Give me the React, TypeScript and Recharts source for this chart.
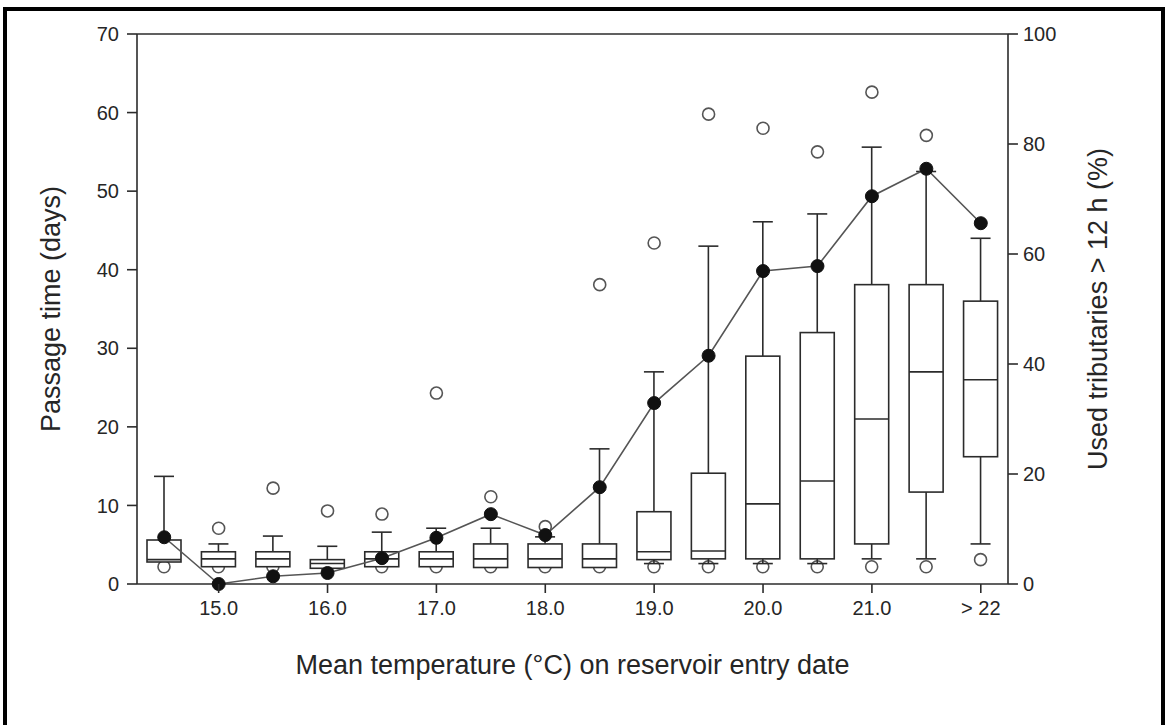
import React from "react";
import { Bar, ComposedChart, Line, ReferenceLine, XAxis, YAxis } from "recharts";

const categories = ["14.5", "15.0", "15.5", "16.0", "16.5", "17.0", "17.5", "18.0", "18.5", "19.0", "19.5", "20.0", "20.5", "21.0", "21.5", "> 22"];
const labeledTicks = ["15.0", "16.0", "17.0", "18.0", "19.0", "20.0", "21.0", "> 22"];

// passage time (days) box plots
const whiskerLow = [2.8, 2.2, 2.2, 2.0, 2.2, 2.2, 2.1, 2.1, 2.1, 2.6, 2.6, 2.6, 2.6, 3.2, 3.2, 5.1];
const q1 = [2.8, 2.2, 2.2, 2.0, 2.2, 2.2, 2.1, 2.1, 2.1, 3.1, 3.2, 3.2, 3.2, 5.1, 11.7, 16.2];
const median = [3.1, 3.2, 3.2, 2.6, 3.2, 3.2, 3.2, 3.2, 3.2, 4.1, 4.2, 10.2, 13.1, 21.0, 27.0, 26.0];
const q3 = [5.6, 4.1, 4.1, 3.1, 4.1, 4.1, 5.1, 5.1, 5.1, 9.2, 14.1, 29.0, 32.0, 38.1, 38.1, 36.0];
const whiskerHigh = [13.7, 5.1, 6.1, 4.8, 6.6, 7.1, 7.1, 6.0, 17.2, 27.0, 43.0, 46.1, 47.1, 55.6, 52.5, 44.0];
const outlierHigh = [null, 7.1, 12.2, 9.3, 8.9, 24.3, 11.1, 7.3, 38.1, 43.4, 59.8, 58.0, 55.0, 62.6, 57.1, null];
const outlierLow = [2.2, 2.2, 2.2, 2.2, 2.2, 2.2, 2.2, 2.2, 2.2, 2.2, 2.2, 2.2, 2.2, 2.2, 2.2, 3.1];

// used tributaries > 12 h (%)
const tributaryPct = [8.5, 0, 1.4, 2.0, 4.7, 8.4, 12.7, 8.9, 17.6, 32.9, 41.5, 56.9, 57.8, 70.5, 75.5, 65.6];

const chartData = categories.map((cat, i) => ({
  cat,
  range: [whiskerLow[i], whiskerHigh[i]],
  lo: whiskerLow[i],
  q1: q1[i],
  median: median[i],
  q3: q3[i],
  hi: whiskerHigh[i],
  outHigh: outlierHigh[i],
  outLow: outlierLow[i],
  pct: tributaryPct[i],
}));

const FONT = "'Liberation Sans', Arial, sans-serif";
const INK = "#2b2b2b";
const TEXT = "#262626";

// box, whiskers and lower outlier, placed with the bar's own y scale
function BoxShape(props: any) {
  const { x, y, width, height, payload } = props;
  if (x == null || y == null) return <g />;
  const top = Math.min(y, y + height);
  const h = Math.abs(height);
  const span = payload.hi - payload.lo;
  const toY = (v: number) => top + ((payload.hi - v) / span) * h;
  const cx = x + width / 2;
  const cap = 10;
  const yq3 = toY(payload.q3);
  const yq1 = toY(payload.q1);
  return (
    <g stroke={INK} strokeWidth={1.6} fill="none">
      {payload.outLow != null && <circle cx={cx} cy={toY(payload.outLow)} r={6} stroke="#555" />}
      <line x1={cx} x2={cx} y1={top} y2={yq3} />
      <line x1={cx - cap} x2={cx + cap} y1={top} y2={top} />
      {payload.lo < payload.q1 && (
        <>
          <line x1={cx} x2={cx} y1={yq1} y2={top + h} />
          <line x1={cx - cap} x2={cx + cap} y1={top + h} y2={top + h} />
        </>
      )}
      <rect x={x} y={yq3} width={width} height={Math.max(yq1 - yq3, 1)} fill="#fff" />
      <line x1={x} x2={x + width} y1={toY(payload.median)} y2={toY(payload.median)} />
    </g>
  );
}

function OpenDot(props: any) {
  const { cx, cy, value, index } = props;
  if (value == null || cy == null || isNaN(cy)) return <g key={`o-${index}`} />;
  return <circle key={`o-${index}`} cx={cx} cy={cy} r={6} fill="none" stroke="#555" strokeWidth={1.6} />;
}

function FilledDot(props: any) {
  const { cx, cy, index } = props;
  return <circle key={`f-${index}`} cx={cx} cy={cy} r={6.5} fill="#111" stroke="#111" />;
}

function XTick(props: any) {
  const { x, y, payload } = props;
  if (!labeledTicks.includes(payload.value)) return <g />;
  return (
    <g>
      <line x1={x} x2={x} y1={y} y2={y + 9} stroke={INK} strokeWidth={1.6} />
      <text x={x} y={y + 31} textAnchor="middle" fontFamily={FONT} fontSize={20} fill={TEXT}>
        {payload.value}
      </text>
    </g>
  );
}

function AxisTitle({ viewBox, text, dx, dy, vertical }: any) {
  const { x, y, width, height } = viewBox;
  if (vertical) {
    const tx = x + dx;
    const ty = y + height / 2;
    return (
      <text x={tx} y={ty} transform={`rotate(-90 ${tx} ${ty})`} textAnchor="middle" dominantBaseline="central" fontFamily={FONT} fontSize={27} fill={TEXT}>
        {text}
      </text>
    );
  }
  return (
    <text x={x + width / 2} y={y + dy} textAnchor="middle" dominantBaseline="central" fontFamily={FONT} fontSize={27} fill={TEXT}>
      {text}
    </text>
  );
}

export default function App() {
  return (
    <div style={{ position: "fixed", left: 0, top: 0, width: 1167, height: 725, background: "#fff", overflow: "hidden" }}>
      <div
        style={{
          position: "absolute",
          left: 3,
          top: 7,
          width: 1162,
          height: 730,
          boxSizing: "border-box",
          borderTop: "4px solid #000",
          borderLeft: "4px solid #000",
          borderRight: "4px solid #000",
        }}
      />
      <ComposedChart width={1167} height={725} data={chartData} margin={{ top: 34, right: 59, left: 37, bottom: 61 }}>
        <XAxis
          dataKey="cat"
          interval={0}
          tick={<XTick />}
          tickLine={false}
          tickSize={0}
          tickMargin={0}
          height={80}
          axisLine={{ stroke: INK, strokeWidth: 1.6 }}
          label={<AxisTitle text="Mean temperature (°C) on reservoir entry date" dy={81} />}
        />
        <YAxis
          yAxisId="left"
          domain={[0, 70]}
          ticks={[0, 10, 20, 30, 40, 50, 60, 70]}
          width={100}
          tickSize={10}
          tickMargin={8}
          tick={{ fontFamily: FONT, fontSize: 20, fill: TEXT }}
          tickLine={{ stroke: INK, strokeWidth: 1.6 }}
          axisLine={{ stroke: INK, strokeWidth: 1.6 }}
          label={<AxisTitle vertical text="Passage time (days)" dx={14} />}
        />
        <YAxis
          yAxisId="right"
          orientation="right"
          domain={[0, 100]}
          ticks={[0, 20, 40, 60, 80, 100]}
          width={100}
          tickSize={10}
          tickMargin={5}
          tick={{ fontFamily: FONT, fontSize: 20, fill: TEXT }}
          tickLine={{ stroke: INK, strokeWidth: 1.6 }}
          axisLine={{ stroke: INK, strokeWidth: 1.6 }}
          label={<AxisTitle vertical text="Used tributaries > 12 h (%)" dx={90} />}
        />
        <ReferenceLine yAxisId="left" y={70} stroke={INK} strokeWidth={1.6} />
        <Line yAxisId="left" dataKey="outHigh" stroke="none" dot={<OpenDot />} activeDot={false} isAnimationActive={false} />
        <Bar yAxisId="left" dataKey="range" barSize={34} shape={<BoxShape />} isAnimationActive={false} />
        <Line
          yAxisId="right"
          dataKey="pct"
          type="linear"
          stroke="#555"
          strokeWidth={1.6}
          dot={<FilledDot />}
          activeDot={false}
          isAnimationActive={false}
        />
      </ComposedChart>
    </div>
  );
}
